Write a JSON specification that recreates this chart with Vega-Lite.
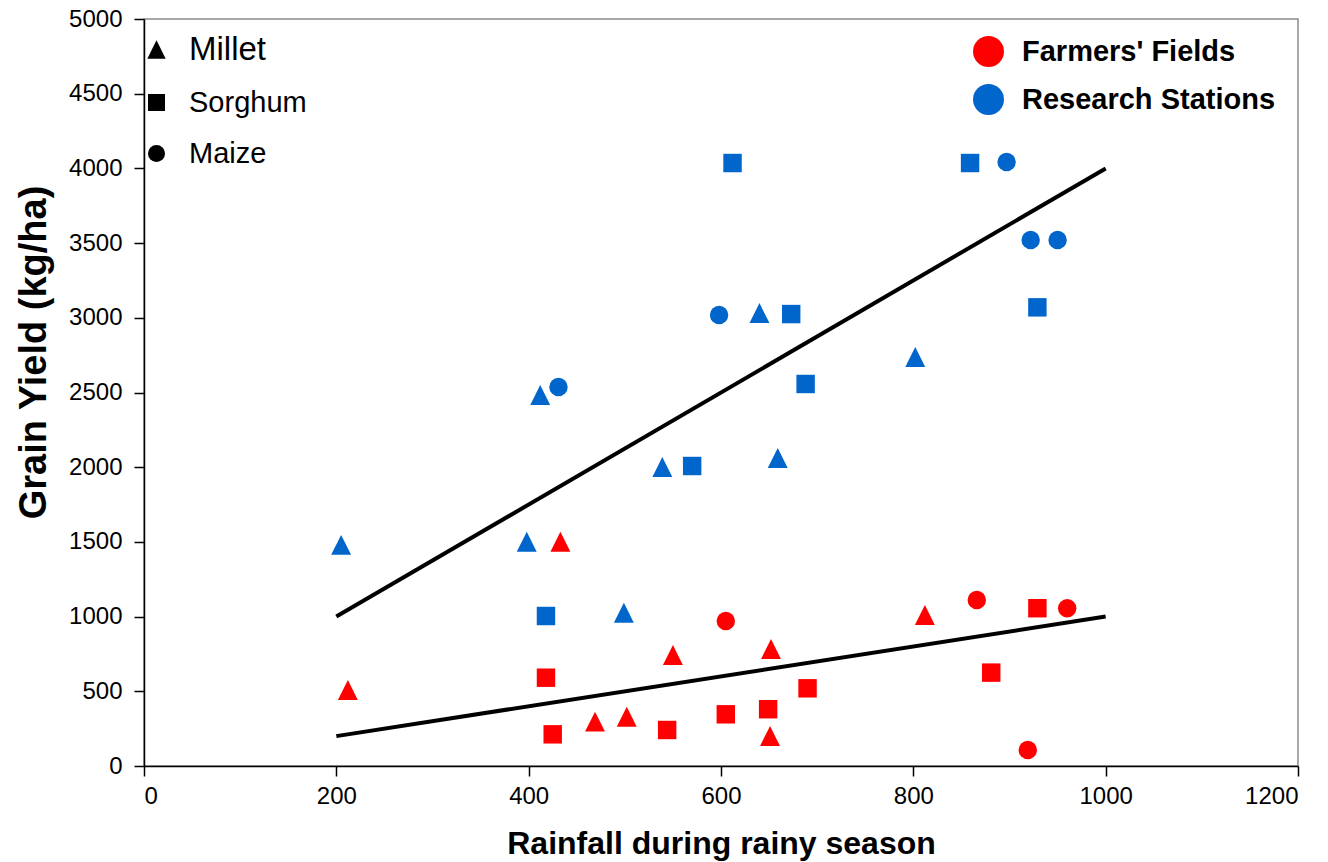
{
  "$schema": "https://vega.github.io/schema/vega-lite/v6.json",
  "width": 1154,
  "height": 747,
  "autosize": "none",
  "padding": {"left": 144, "top": 19, "right": 30, "bottom": 96},
  "background": "white",
  "config": {
    "font": "Liberation Sans",
    "view": {"stroke": "#8c8c8c", "strokeWidth": 1.5},
    "axis": {
      "grid": false,
      "domainColor": "#000",
      "domainWidth": 1.5,
      "tickColor": "#000",
      "tickWidth": 1.5,
      "tickSize": 10,
      "labelColor": "#000",
      "titleColor": "#000",
      "labelFont": "Liberation Sans",
      "titleFont": "Liberation Sans",
      "labelFontSize": 24,
      "labelFontWeight": "normal",
      "titleFontWeight": "bold"
    },
    "legend": {"labelFont": "Liberation Sans", "labelColor": "#000", "labelLimit": 0}
  },
  "layer": [
    {
      "data": {
        "values": [
          {"rain": 200, "yield": 1000, "grp": "Research Stations"},
          {"rain": 1000, "yield": 4000, "grp": "Research Stations"},
          {"rain": 200, "yield": 200, "grp": "Farmers' Fields"},
          {"rain": 1000, "yield": 1000, "grp": "Farmers' Fields"}
        ]
      },
      "mark": {"type": "line", "color": "black", "strokeWidth": 4},
      "encoding": {
        "x": {
          "field": "rain",
          "type": "quantitative",
          "scale": {"domain": [0, 1200], "nice": false, "zero": false},
          "axis": {
            "values": [0, 200, 400, 600, 800, 1000, 1200],
            "format": "d",
            "title": "Rainfall during rainy season",
            "titleFontSize": 32,
            "titlePadding": 20,
            "labelPadding": 8
          }
        },
        "y": {
          "field": "yield",
          "type": "quantitative",
          "scale": {"domain": [0, 5000], "nice": false, "zero": false},
          "axis": {
            "values": [0, 500, 1000, 1500, 2000, 2500, 3000, 3500, 4000, 4500, 5000],
            "format": "d",
            "title": "Grain Yield (kg/ha)",
            "titleFontSize": 38,
            "titlePadding": 15,
            "titleY": 333,
            "labelPadding": 12
          }
        },
        "detail": {"field": "grp"}
      }
    },
    {
      "data": {
        "values": [
          {"rain": 205, "yield": 1480, "crop": "Millet", "site": "Research Stations"},
          {"rain": 412, "yield": 2483, "crop": "Millet", "site": "Research Stations"},
          {"rain": 431, "yield": 2537, "crop": "Maize", "site": "Research Stations"},
          {"rain": 398, "yield": 1501, "crop": "Millet", "site": "Research Stations"},
          {"rain": 418, "yield": 1004, "crop": "Sorghum", "site": "Research Stations"},
          {"rain": 499, "yield": 1026, "crop": "Millet", "site": "Research Stations"},
          {"rain": 539, "yield": 2001, "crop": "Millet", "site": "Research Stations"},
          {"rain": 570, "yield": 2008, "crop": "Sorghum", "site": "Research Stations"},
          {"rain": 612, "yield": 4036, "crop": "Sorghum", "site": "Research Stations"},
          {"rain": 598, "yield": 3019, "crop": "Maize", "site": "Research Stations"},
          {"rain": 640, "yield": 3032, "crop": "Millet", "site": "Research Stations"},
          {"rain": 673, "yield": 3025, "crop": "Sorghum", "site": "Research Stations"},
          {"rain": 659, "yield": 2062, "crop": "Millet", "site": "Research Stations"},
          {"rain": 688, "yield": 2557, "crop": "Sorghum", "site": "Research Stations"},
          {"rain": 802, "yield": 2738, "crop": "Millet", "site": "Research Stations"},
          {"rain": 859, "yield": 4036, "crop": "Sorghum", "site": "Research Stations"},
          {"rain": 897, "yield": 4043, "crop": "Maize", "site": "Research Stations"},
          {"rain": 922, "yield": 3521, "crop": "Maize", "site": "Research Stations"},
          {"rain": 950, "yield": 3521, "crop": "Maize", "site": "Research Stations"},
          {"rain": 929, "yield": 3070, "crop": "Sorghum", "site": "Research Stations"},
          {"rain": 212, "yield": 509, "crop": "Millet", "site": "Farmers' Fields"},
          {"rain": 433, "yield": 1501, "crop": "Millet", "site": "Farmers' Fields"},
          {"rain": 418, "yield": 591, "crop": "Sorghum", "site": "Farmers' Fields"},
          {"rain": 425, "yield": 212, "crop": "Sorghum", "site": "Farmers' Fields"},
          {"rain": 469, "yield": 297, "crop": "Millet", "site": "Farmers' Fields"},
          {"rain": 502, "yield": 330, "crop": "Millet", "site": "Farmers' Fields"},
          {"rain": 550, "yield": 743, "crop": "Millet", "site": "Farmers' Fields"},
          {"rain": 605, "yield": 971, "crop": "Maize", "site": "Farmers' Fields"},
          {"rain": 544, "yield": 241, "crop": "Sorghum", "site": "Farmers' Fields"},
          {"rain": 605, "yield": 346, "crop": "Sorghum", "site": "Farmers' Fields"},
          {"rain": 649, "yield": 380, "crop": "Sorghum", "site": "Farmers' Fields"},
          {"rain": 652, "yield": 783, "crop": "Millet", "site": "Farmers' Fields"},
          {"rain": 651, "yield": 201, "crop": "Millet", "site": "Farmers' Fields"},
          {"rain": 690, "yield": 520, "crop": "Sorghum", "site": "Farmers' Fields"},
          {"rain": 812, "yield": 1011, "crop": "Millet", "site": "Farmers' Fields"},
          {"rain": 866, "yield": 1111, "crop": "Maize", "site": "Farmers' Fields"},
          {"rain": 929, "yield": 1056, "crop": "Sorghum", "site": "Farmers' Fields"},
          {"rain": 960, "yield": 1056, "crop": "Maize", "site": "Farmers' Fields"},
          {"rain": 881, "yield": 625, "crop": "Sorghum", "site": "Farmers' Fields"},
          {"rain": 919, "yield": 107, "crop": "Maize", "site": "Farmers' Fields"}
        ]
      },
      "mark": {"type": "point", "filled": true, "opacity": 1, "size": 340, "strokeWidth": 0},
      "encoding": {
        "x": {"field": "rain", "type": "quantitative"},
        "y": {"field": "yield", "type": "quantitative"},
        "shape": {
          "field": "crop",
          "type": "nominal",
          "scale": {
            "domain": ["Millet", "Sorghum", "Maize"],
            "range": ["M0,-1.08L1.08,1.08L-1.08,1.08Z", "square", "circle"]
          },
          "legend": {
            "orient": "none",
            "legendX": -2,
            "legendY": 16,
            "title": null,
            "padding": 0,
            "labelFontSize": 28,
            "labelOffset": 18,
            "rowPadding": 21,
            "symbolSize": 290,
            "symbolFillColor": "black",
            "symbolStrokeColor": "black",
            "symbolStrokeWidth": 0,
            "symbolOpacity": 1,
            "encode": {
              "labels": {"update": {"fontSize": {"signal": "datum.label === 'Millet' ? 33 : 29"}}},
              "symbols": {"update": {"fill": {"value": "black"}, "opacity": {"value": 1}}}
            }
          }
        },
        "color": {
          "field": "site",
          "type": "nominal",
          "scale": {
            "domain": ["Farmers' Fields", "Research Stations"],
            "range": ["#ff0000", "#0066cc"]
          },
          "legend": {
            "orient": "none",
            "legendX": 829,
            "legendY": 17,
            "title": null,
            "padding": 0,
            "labelFontSize": 29,
            "labelFontWeight": "bold",
            "labelOffset": 18,
            "rowPadding": 17,
            "labelLimit": 0,
            "symbolType": "circle",
            "symbolSize": 960,
            "symbolStrokeWidth": 0,
            "symbolOpacity": 1
          }
        }
      }
    }
  ]
}
